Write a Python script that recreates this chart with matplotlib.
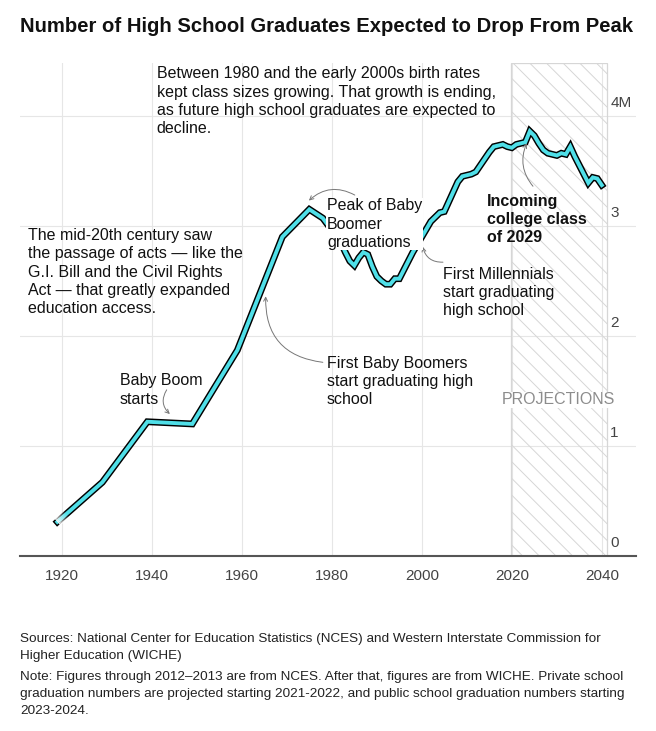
import numpy as np
import matplotlib
matplotlib.use("Agg")
import matplotlib.pyplot as plt
from matplotlib.patches import Rectangle

plt.rcParams['font.family'] = ['Liberation Sans', 'DejaVu Sans']
plt.rcParams['hatch.linewidth'] = 0.7

# school year (start year) and graduates in millions
years = [1919, 1929, 1939, 1949, 1959, 1969, 1975, 1978,
         1982, 1983, 1984, 1985, 1986, 1987, 1988, 1989, 1990, 1991,
         1992, 1993, 1994, 1995, 1996, 1997, 1998, 1999, 2000, 2001,
         2002, 2003, 2004, 2005, 2006, 2007, 2008, 2009, 2010, 2011,
         2012, 2013, 2014, 2015, 2016, 2017, 2018, 2019, 2020, 2021,
         2022, 2023, 2024, 2025, 2026, 2027, 2028, 2029, 2030, 2031,
         2032, 2033, 2034, 2035, 2036, 2037, 2038, 2039, 2040]
grads = [0.31, 0.67, 1.22, 1.20, 1.87, 2.90, 3.15, 3.07,
         2.85, 2.76, 2.68, 2.64, 2.71, 2.76, 2.74, 2.63, 2.54, 2.50,
         2.47, 2.47, 2.52, 2.52, 2.60, 2.68, 2.76, 2.83, 2.90, 2.97,
         3.04, 3.08, 3.12, 3.13, 3.22, 3.31, 3.40, 3.45, 3.46, 3.47,
         3.49, 3.55, 3.61, 3.67, 3.72, 3.73, 3.74, 3.72, 3.71, 3.74,
         3.75, 3.76, 3.86, 3.82, 3.75, 3.69, 3.66, 3.65, 3.64, 3.66,
         3.65, 3.72, 3.63, 3.55, 3.47, 3.39, 3.44, 3.43, 3.37]

xticks = [1920, 1940, 1960, 1980, 2000, 2020, 2040]
yticks = [0, 1, 2, 3, 4]
ylabels = ['0', '1', '2', '3', '4M']
proj_start, proj_end = 2019.8, 2041.1

title = "Number of High School Graduates Expected to Drop From Peak"
sources = ("Sources: National Center for Education Statistics (NCES) and Western Interstate Commission for\n"
           "Higher Education (WICHE)")
note = ("Note: Figures through 2012\u20132013 are from NCES. After that, figures are from WICHE. Private school\n"
        "graduation numbers are projected starting 2021-2022, and public school graduation numbers starting\n"
        "2023-2024.")

fig = plt.figure(figsize=(6.56, 7.31), dpi=100)
ax = fig.add_axes([20/656, 1-556/731, 616/656, 493/731])
ax.set_xlim(1910.7, 2047.6)
ax.set_ylim(0, 4.48)

for s in ['top', 'left', 'right']:
    ax.spines[s].set_visible(False)
ax.spines['bottom'].set_color('#555555')
ax.spines['bottom'].set_linewidth(1.5)
ax.set_xticks(xticks)
ax.set_yticks(yticks)
ax.set_yticklabels([])
ax.tick_params(axis='both', length=0)
ax.tick_params(axis='x', pad=9, labelsize=11, labelcolor='#444444')
ax.grid(True, color='#e6e6e6', lw=0.8)
ax.set_axisbelow(True)

for v, lab in zip(yticks, ylabels):
    ax.text(2041.9, v + 0.05, lab, ha='left', va='bottom', fontsize=11, color='#444444')

# projections area
ax.add_patch(Rectangle((proj_start, 0), proj_end - proj_start, 4.48, facecolor='none',
                       edgecolor='#d6d6d6', hatch='\\\\', lw=0.9, zorder=1))
ax.text((proj_start + proj_end) / 2, 1.42, 'PROJECTIONS', ha='center', va='center',
        fontsize=11.5, color='#8c8c8c', zorder=2,
        bbox=dict(facecolor='white', edgecolor='none', pad=0.5))

ax.plot(years, grads, color='black', lw=4.9, solid_joinstyle='miter', zorder=3)
ax.plot(years, grads, color='#4fdfe8', lw=2.8, solid_joinstyle='miter', zorder=4)

# fade at the start of the line
x0, x1 = years[0], years[1]
y0, y1 = grads[0], grads[1]
for i in range(10):
    t0, t1 = i * 0.02, (i + 1) * 0.02
    ax.plot([x0 + (x1 - x0) * t0, x0 + (x1 - x0) * t1], [y0 + (y1 - y0) * t0, y0 + (y1 - y0) * t1],
            color='white', lw=7, alpha=0.9 * (1 - i / 10), solid_capstyle='butt', zorder=4.5)

txt = dict(fontsize=11.5, color='#111111', va='top', linespacing=1.27, zorder=6)
ax.text(1941.1, 4.45, "Between 1980 and the early 2000s birth rates\nkept class sizes growing. That growth is ending,\n"
        "as future high school graduates are expected to\ndecline.", **txt)
ax.text(1912.4, 2.98, "The mid-20th century saw\nthe passage of acts \u2014 like the\nG.I. Bill and the Civil Rights\n"
        "Act \u2014 that greatly expanded\neducation access.", **txt)
ax.text(1932.9, 1.66, "Baby Boom\nstarts", **txt)
ax.text(1978.9, 3.25, "Peak of Baby\nBoomer\ngraduations",
        bbox=dict(facecolor='white', edgecolor='none', pad=0.5), **txt)
ax.text(1978.9, 1.82, "First Baby Boomers\nstart graduating high\nschool", **txt)
ax.text(2004.7, 2.63, "First Millennials\nstart graduating\nhigh school", **txt)
ax.text(2014.4, 3.29, "Incoming\ncollege class\nof 2029", fontweight='bold', **txt)

arrow = dict(arrowstyle='->', color='#777777', lw=0.7, shrinkA=0, shrinkB=0,
             mutation_scale=7)
arrows = [((1944.0, 1.29), (1943.3, 1.51), 0.4),
          ((1974.9, 3.23), (1985.1, 3.28), 0.35),
          ((1965.3, 2.36), (1978.0, 1.76), -0.45),
          ((2000.2, 2.81), (2004.7, 2.67), -0.4),
          ((2023.3, 3.75), (2024.7, 3.36), -0.3)]
for head, tail, rad in arrows:
    ax.annotate('', xy=head, xytext=tail, zorder=5,
                arrowprops=dict(connectionstyle=f'arc3,rad={rad}', **arrow))

fig.text(20/656, 1-26/731, title, fontsize=14.6, fontweight='bold', va='center', color='#111111')
fig.text(20/656, 1-633/731, sources, fontsize=9.7, va='top', linespacing=1.55, color='#222222')
fig.text(20/656, 1-671/731, note, fontsize=9.7, va='top', linespacing=1.55, color='#222222')

fig.savefig('out.png', dpi=100)
